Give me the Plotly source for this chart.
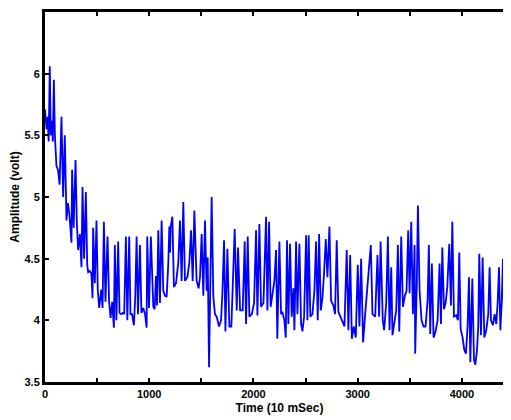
import plotly.graph_objects as go

time_a = [0, 15, 25, 35, 46, 55, 65, 75, 85, 95, 110, 125, 140, 158, 174, 190, 206, 220, 235, 254,
          260, 275, 293, 305, 318, 335, 350, 360, 375, 392, 405, 414, 430, 445, 456, 462, 478, 494, 506, 520,
          540, 552, 565, 580, 600, 615, 629, 645, 661, 670, 685, 702, 715, 730, 745, 760, 776, 790, 808, 820,
          835, 853, 866, 879, 892, 911, 925, 943, 960, 975, 981, 998, 1016, 1033]
amp_a = [5.71, 5.55, 5.65, 5.45, 6.06, 5.50, 5.62, 5.45, 5.95, 5.50, 5.25, 5.22, 5.10, 5.65, 5.00, 5.50, 4.81, 4.95, 4.85, 4.63,
         5.22, 4.75, 5.30, 4.80, 4.57, 4.70, 4.43, 5.08, 4.50, 5.04, 4.45, 4.39, 4.40, 4.38, 4.18, 4.75, 4.30, 4.81, 4.25, 4.10,
         4.25, 4.10, 4.80, 4.15, 4.68, 4.15, 4.02, 4.15, 3.94, 4.61, 4.00, 4.64, 4.06, 4.05, 4.06, 4.05, 4.68, 4.00, 4.68, 4.05,
         4.05, 3.96, 4.20, 4.68, 4.05, 4.61, 4.06, 4.10, 4.05, 3.94, 4.68, 4.10, 4.68, 4.23]

time_b = [1039, 1052, 1065, 1075, 1087, 1103, 1119, 1135, 1151, 1167, 1183, 1193, 1200, 1206, 1222, 1237, 1257, 1279, 1295, 1311,
          1327, 1343, 1366, 1385, 1401, 1417, 1433, 1455, 1474, 1487, 1503, 1519, 1535, 1551, 1561, 1574, 1583, 1599, 1615, 1631,
          1647, 1660, 1670, 1689, 1702, 1718, 1731, 1750, 1769, 1788, 1801, 1820, 1840, 1852, 1872, 1897, 1916, 1929, 1945, 1961,
          1984, 2006, 2025, 2038, 2057, 2073, 2096, 2121, 2134, 2150]
amp_b = [4.11, 4.09, 4.36, 4.12, 4.73, 4.14, 4.81, 4.24, 4.20, 4.19, 4.46, 4.76, 4.55, 4.76, 4.84, 4.27, 4.30, 4.47, 4.81, 4.32,
         4.96, 4.32, 4.35, 4.47, 4.73, 4.32, 4.89, 4.32, 4.26, 4.35, 4.70, 4.20, 4.81, 4.24, 4.51, 3.62, 4.19, 5.00, 4.19, 4.05,
         4.03, 3.98, 3.95, 4.00, 4.22, 4.65, 3.91, 4.58, 3.95, 3.95, 4.24, 4.74, 4.08, 4.59, 4.08, 4.08, 4.64, 3.97, 4.68, 4.03,
         4.05, 4.14, 4.73, 4.04, 4.78, 4.11, 4.14, 4.84, 4.08, 4.80]

time_c = [2165, 2181, 2201, 2217, 2229, 2249, 2265, 2277, 2297, 2310, 2322, 2335, 2351, 2367, 2383, 2393, 2409, 2422, 2441, 2457,
          2470, 2486, 2505, 2518, 2530, 2546, 2566, 2585, 2601, 2617, 2630, 2646, 2662, 2678, 2694, 2710, 2729, 2745, 2767, 2783,
          2799, 2815, 2835, 2854, 2873, 2895, 2911, 2928, 2944, 2963, 2982, 3001, 3017, 3033, 3052, 3072, 3091, 3107, 3126, 3142,
          3168, 3190, 3206, 3220, 3241]
amp_c = [4.11, 4.19, 4.32, 4.57, 3.85, 4.64, 4.05, 4.07, 4.00, 3.86, 4.65, 3.97, 4.62, 4.03, 4.26, 3.92, 4.64, 4.05, 4.62, 3.97,
         3.91, 4.03, 4.69, 4.00, 4.69, 4.03, 4.05, 4.24, 4.64, 4.00, 4.70, 4.08, 4.18, 4.39, 4.66, 4.35, 4.76, 4.16, 4.12, 4.05,
         4.65, 4.07, 4.03, 3.99, 3.95, 4.57, 3.92, 4.53, 3.85, 3.95, 3.86, 4.45, 3.95, 4.50, 3.82, 4.05, 4.27, 4.46, 4.61, 4.05,
         4.03, 4.53, 4.03, 4.64, 4.00]

time_d = [3254, 3274, 3290, 3306, 3322, 3334, 3350, 3370, 3386, 3399, 3418, 3434, 3453, 3469, 3485, 3498, 3514, 3530, 3546, 3552,
          3568, 3578, 3594, 3613, 3632, 3651, 3671, 3683, 3696, 3712, 3728, 3747, 3767, 3786, 3799, 3812, 3828, 3844, 3860, 3879,
          3895, 3908, 3924, 3946, 3962, 3975, 3988, 4007, 4023, 4039, 4055, 4068, 4081, 4100, 4116, 4129, 4145, 4157, 4167, 4183,
          4199, 4215, 4234, 4253, 4266, 4279, 4298, 4314, 4330, 4343, 4356, 4369, 4382, 4394, 4410]
amp_d = [3.92, 4.14, 4.68, 3.92, 4.43, 3.88, 3.97, 4.08, 4.61, 3.91, 4.68, 4.11, 4.20, 4.24, 4.73, 4.22, 4.80, 4.05, 4.61, 3.73,
         4.32, 4.93, 4.24, 4.00, 3.95, 3.95, 4.16, 4.61, 3.89, 4.46, 3.86, 3.91, 4.00, 4.46, 3.97, 4.59, 4.09, 4.14, 4.27, 4.62,
         4.12, 4.80, 4.03, 4.04, 4.00, 4.55, 3.93, 3.86, 3.76, 3.73, 3.96, 4.35, 3.66, 4.34, 3.68, 3.64, 3.76, 3.95, 4.54, 3.88,
         4.51, 3.86, 3.92, 4.05, 4.43, 4.00, 3.96, 4.05, 3.97, 4.14, 4.43, 3.92, 4.14, 4.50, 3.82]

x_tick_vals = [0, 500, 1000, 1500, 2000, 2500, 3000, 3500, 4000, 4500]
x_tick_text = ["0", "", "1000", "", "2000", "", "3000", "", "4000", ""]
y_tick_vals = [3.5, 4, 4.5, 5, 5.5, 6, 6.5]
y_tick_text = ["3.5", "4", "4.5", "5", "5.5", "6", "6.5"]

x_range = [0, 4500]
y_range = [3.5, 6.5]

time = time_a + time_b + time_c + time_d
amp = amp_a + amp_b + amp_c + amp_d

FRAME = "black"
font_family = "Liberation Sans, Arial, sans-serif"
tick_font = dict(family=font_family, size=11, color="black")
title_font = dict(family=font_family, size=12, color="black")

def bold(s):
    return "<b>" + s + "</b>" if s else ""

# the page body adds an 8 px offset; margins compensate for it
W, H = 511, 420
M = dict(l=37, r=5, t=4, b=46)

fig = go.Figure()
fig.add_trace(go.Scatter(x=time, y=amp, mode="lines",
                         line=dict(color="#0000FF", width=1.8), showlegend=False))
# copy on a right-hand axis so that axis (and its inward ticks) is drawn
fig.add_trace(go.Scatter(x=time, y=amp, mode="lines", yaxis="y2", opacity=0,
                         line=dict(color="#0000FF", width=0.1), hoverinfo="skip", showlegend=False))

axis_common = dict(ticks="inside", ticklen=4, tickwidth=2, tickcolor=FRAME,
                   showline=True, linewidth=3, linecolor=FRAME,
                   showgrid=False, zeroline=False, automargin=False, layer="above traces")

fig.update_layout(
    width=W, height=H,
    margin=M,
    paper_bgcolor="white", plot_bgcolor="white",
    xaxis=dict(range=x_range, tickvals=x_tick_vals, ticktext=[bold(t) for t in x_tick_text],
               mirror="ticks", tickfont=tick_font,
               title=dict(text=bold("Time (10 mSec)"), font=title_font, standoff=5), **axis_common),
    yaxis=dict(range=y_range, tickvals=y_tick_vals, ticktext=[bold(t) for t in y_tick_text],
               mirror=False, tickfont=tick_font,
               title=dict(text=bold("Amplitude (volt)"), font=title_font, standoff=4), **axis_common),
    yaxis2=dict(range=y_range, tickvals=y_tick_vals, overlaying="y", side="right",
                showticklabels=False, **axis_common),
)

fig.write_html("out.html")
